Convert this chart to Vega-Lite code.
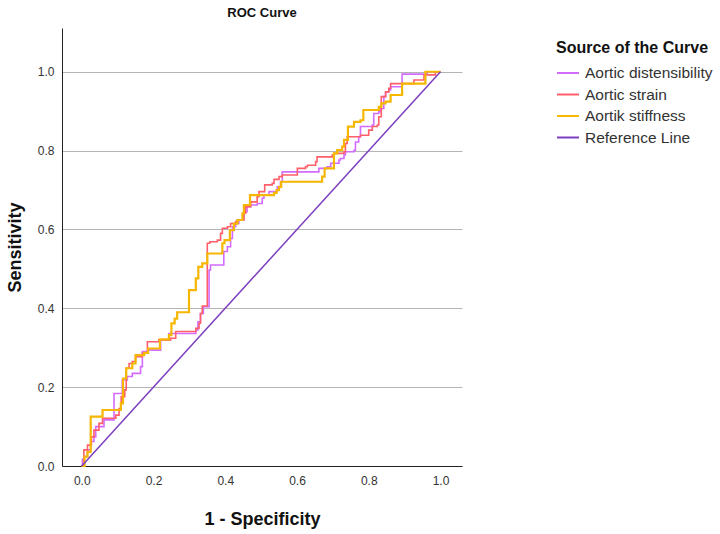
{
  "$schema": "https://vega.github.io/schema/vega-lite/v6.json",
  "width": 400,
  "height": 438,
  "autosize": {"type": "none"},
  "padding": {"left": 62, "top": 28, "right": 258, "bottom": 68},
  "background": "white",
  "config": {
    "font": "Liberation Sans",
    "view": {"stroke": null}
  },
  "title": {"text": "ROC Curve", "fontSize": 13, "fontWeight": "bold", "color": "#111", "offset": 8, "anchor": "middle"},
  "datasets": {
    "roc": [
      {"s": "Aortic distensibility", "o": 0, "x": 0, "y": 0},
      {"s": "Aortic distensibility", "o": 1, "x": 0.002, "y": 0.017},
      {"s": "Aortic distensibility", "o": 2, "x": 0.006, "y": 0.024},
      {"s": "Aortic distensibility", "o": 3, "x": 0.016, "y": 0.041},
      {"s": "Aortic distensibility", "o": 4, "x": 0.025, "y": 0.062},
      {"s": "Aortic distensibility", "o": 5, "x": 0.034, "y": 0.074},
      {"s": "Aortic distensibility", "o": 6, "x": 0.039, "y": 0.100},
      {"s": "Aortic distensibility", "o": 7, "x": 0.062, "y": 0.117},
      {"s": "Aortic distensibility", "o": 8, "x": 0.090, "y": 0.184},
      {"s": "Aortic distensibility", "o": 9, "x": 0.113, "y": 0.218},
      {"s": "Aortic distensibility", "o": 10, "x": 0.127, "y": 0.227},
      {"s": "Aortic distensibility", "o": 11, "x": 0.141, "y": 0.235},
      {"s": "Aortic distensibility", "o": 12, "x": 0.164, "y": 0.252},
      {"s": "Aortic distensibility", "o": 13, "x": 0.169, "y": 0.290},
      {"s": "Aortic distensibility", "o": 14, "x": 0.183, "y": 0.294},
      {"s": "Aortic distensibility", "o": 15, "x": 0.220, "y": 0.320},
      {"s": "Aortic distensibility", "o": 16, "x": 0.243, "y": 0.336},
      {"s": "Aortic distensibility", "o": 17, "x": 0.318, "y": 0.345},
      {"s": "Aortic distensibility", "o": 18, "x": 0.324, "y": 0.366},
      {"s": "Aortic distensibility", "o": 19, "x": 0.331, "y": 0.387},
      {"s": "Aortic distensibility", "o": 20, "x": 0.339, "y": 0.404},
      {"s": "Aortic distensibility", "o": 21, "x": 0.355, "y": 0.497},
      {"s": "Aortic distensibility", "o": 22, "x": 0.359, "y": 0.510},
      {"s": "Aortic distensibility", "o": 23, "x": 0.396, "y": 0.544},
      {"s": "Aortic distensibility", "o": 24, "x": 0.406, "y": 0.556},
      {"s": "Aortic distensibility", "o": 25, "x": 0.415, "y": 0.577},
      {"s": "Aortic distensibility", "o": 26, "x": 0.420, "y": 0.607},
      {"s": "Aortic distensibility", "o": 27, "x": 0.429, "y": 0.615},
      {"s": "Aortic distensibility", "o": 28, "x": 0.438, "y": 0.624},
      {"s": "Aortic distensibility", "o": 29, "x": 0.452, "y": 0.645},
      {"s": "Aortic distensibility", "o": 30, "x": 0.461, "y": 0.658},
      {"s": "Aortic distensibility", "o": 31, "x": 0.471, "y": 0.662},
      {"s": "Aortic distensibility", "o": 32, "x": 0.489, "y": 0.666},
      {"s": "Aortic distensibility", "o": 33, "x": 0.503, "y": 0.679},
      {"s": "Aortic distensibility", "o": 34, "x": 0.508, "y": 0.687},
      {"s": "Aortic distensibility", "o": 35, "x": 0.522, "y": 0.696},
      {"s": "Aortic distensibility", "o": 36, "x": 0.545, "y": 0.708},
      {"s": "Aortic distensibility", "o": 37, "x": 0.554, "y": 0.721},
      {"s": "Aortic distensibility", "o": 38, "x": 0.559, "y": 0.746},
      {"s": "Aortic distensibility", "o": 39, "x": 0.661, "y": 0.755},
      {"s": "Aortic distensibility", "o": 40, "x": 0.684, "y": 0.759},
      {"s": "Aortic distensibility", "o": 41, "x": 0.694, "y": 0.768},
      {"s": "Aortic distensibility", "o": 42, "x": 0.717, "y": 0.776},
      {"s": "Aortic distensibility", "o": 43, "x": 0.721, "y": 0.780},
      {"s": "Aortic distensibility", "o": 44, "x": 0.731, "y": 0.789},
      {"s": "Aortic distensibility", "o": 45, "x": 0.735, "y": 0.797},
      {"s": "Aortic distensibility", "o": 46, "x": 0.759, "y": 0.801},
      {"s": "Aortic distensibility", "o": 47, "x": 0.763, "y": 0.822},
      {"s": "Aortic distensibility", "o": 48, "x": 0.772, "y": 0.835},
      {"s": "Aortic distensibility", "o": 49, "x": 0.777, "y": 0.861},
      {"s": "Aortic distensibility", "o": 50, "x": 0.810, "y": 0.865},
      {"s": "Aortic distensibility", "o": 51, "x": 0.814, "y": 0.894},
      {"s": "Aortic distensibility", "o": 52, "x": 0.828, "y": 0.899},
      {"s": "Aortic distensibility", "o": 53, "x": 0.833, "y": 0.907},
      {"s": "Aortic distensibility", "o": 54, "x": 0.842, "y": 0.937},
      {"s": "Aortic distensibility", "o": 55, "x": 0.847, "y": 0.949},
      {"s": "Aortic distensibility", "o": 56, "x": 0.856, "y": 0.954},
      {"s": "Aortic distensibility", "o": 57, "x": 0.861, "y": 0.962},
      {"s": "Aortic distensibility", "o": 58, "x": 0.893, "y": 0.994},
      {"s": "Aortic distensibility", "o": 59, "x": 0.963, "y": 1.0},
      {"s": "Aortic distensibility", "o": 60, "x": 1.0, "y": 1.0},

      {"s": "Aortic strain", "o": 0, "x": 0, "y": 0},
      {"s": "Aortic strain", "o": 1, "x": 0.006, "y": 0.041},
      {"s": "Aortic strain", "o": 2, "x": 0.016, "y": 0.053},
      {"s": "Aortic strain", "o": 3, "x": 0.027, "y": 0.074},
      {"s": "Aortic strain", "o": 4, "x": 0.034, "y": 0.091},
      {"s": "Aortic strain", "o": 5, "x": 0.048, "y": 0.108},
      {"s": "Aortic strain", "o": 6, "x": 0.058, "y": 0.121},
      {"s": "Aortic strain", "o": 7, "x": 0.095, "y": 0.129},
      {"s": "Aortic strain", "o": 8, "x": 0.104, "y": 0.146},
      {"s": "Aortic strain", "o": 9, "x": 0.110, "y": 0.176},
      {"s": "Aortic strain", "o": 10, "x": 0.120, "y": 0.193},
      {"s": "Aortic strain", "o": 11, "x": 0.124, "y": 0.248},
      {"s": "Aortic strain", "o": 12, "x": 0.132, "y": 0.260},
      {"s": "Aortic strain", "o": 13, "x": 0.141, "y": 0.265},
      {"s": "Aortic strain", "o": 14, "x": 0.150, "y": 0.277},
      {"s": "Aortic strain", "o": 15, "x": 0.169, "y": 0.286},
      {"s": "Aortic strain", "o": 16, "x": 0.183, "y": 0.315},
      {"s": "Aortic strain", "o": 17, "x": 0.215, "y": 0.320},
      {"s": "Aortic strain", "o": 18, "x": 0.248, "y": 0.324},
      {"s": "Aortic strain", "o": 19, "x": 0.262, "y": 0.341},
      {"s": "Aortic strain", "o": 20, "x": 0.318, "y": 0.349},
      {"s": "Aortic strain", "o": 21, "x": 0.327, "y": 0.362},
      {"s": "Aortic strain", "o": 22, "x": 0.331, "y": 0.387},
      {"s": "Aortic strain", "o": 23, "x": 0.336, "y": 0.406},
      {"s": "Aortic strain", "o": 24, "x": 0.350, "y": 0.565},
      {"s": "Aortic strain", "o": 25, "x": 0.357, "y": 0.569},
      {"s": "Aortic strain", "o": 26, "x": 0.378, "y": 0.573},
      {"s": "Aortic strain", "o": 27, "x": 0.387, "y": 0.590},
      {"s": "Aortic strain", "o": 28, "x": 0.392, "y": 0.603},
      {"s": "Aortic strain", "o": 29, "x": 0.406, "y": 0.607},
      {"s": "Aortic strain", "o": 30, "x": 0.415, "y": 0.615},
      {"s": "Aortic strain", "o": 31, "x": 0.429, "y": 0.620},
      {"s": "Aortic strain", "o": 32, "x": 0.434, "y": 0.624},
      {"s": "Aortic strain", "o": 33, "x": 0.452, "y": 0.641},
      {"s": "Aortic strain", "o": 34, "x": 0.457, "y": 0.658},
      {"s": "Aortic strain", "o": 35, "x": 0.471, "y": 0.670},
      {"s": "Aortic strain", "o": 36, "x": 0.489, "y": 0.683},
      {"s": "Aortic strain", "o": 37, "x": 0.494, "y": 0.696},
      {"s": "Aortic strain", "o": 38, "x": 0.510, "y": 0.713},
      {"s": "Aortic strain", "o": 39, "x": 0.531, "y": 0.717},
      {"s": "Aortic strain", "o": 40, "x": 0.536, "y": 0.727},
      {"s": "Aortic strain", "o": 41, "x": 0.550, "y": 0.734},
      {"s": "Aortic strain", "o": 42, "x": 0.559, "y": 0.738},
      {"s": "Aortic strain", "o": 43, "x": 0.601, "y": 0.755},
      {"s": "Aortic strain", "o": 44, "x": 0.624, "y": 0.759},
      {"s": "Aortic strain", "o": 45, "x": 0.629, "y": 0.763},
      {"s": "Aortic strain", "o": 46, "x": 0.652, "y": 0.772},
      {"s": "Aortic strain", "o": 47, "x": 0.656, "y": 0.784},
      {"s": "Aortic strain", "o": 48, "x": 0.698, "y": 0.789},
      {"s": "Aortic strain", "o": 49, "x": 0.703, "y": 0.793},
      {"s": "Aortic strain", "o": 50, "x": 0.731, "y": 0.797},
      {"s": "Aortic strain", "o": 51, "x": 0.735, "y": 0.818},
      {"s": "Aortic strain", "o": 52, "x": 0.740, "y": 0.835},
      {"s": "Aortic strain", "o": 53, "x": 0.777, "y": 0.839},
      {"s": "Aortic strain", "o": 54, "x": 0.800, "y": 0.852},
      {"s": "Aortic strain", "o": 55, "x": 0.810, "y": 0.861},
      {"s": "Aortic strain", "o": 56, "x": 0.824, "y": 0.865},
      {"s": "Aortic strain", "o": 57, "x": 0.828, "y": 0.886},
      {"s": "Aortic strain", "o": 58, "x": 0.835, "y": 0.937},
      {"s": "Aortic strain", "o": 59, "x": 0.847, "y": 0.949},
      {"s": "Aortic strain", "o": 60, "x": 0.856, "y": 0.958},
      {"s": "Aortic strain", "o": 61, "x": 0.861, "y": 0.970},
      {"s": "Aortic strain", "o": 62, "x": 0.926, "y": 0.979},
      {"s": "Aortic strain", "o": 63, "x": 0.954, "y": 0.992},
      {"s": "Aortic strain", "o": 64, "x": 0.986, "y": 1.0},
      {"s": "Aortic strain", "o": 65, "x": 1.0, "y": 1.0},

      {"s": "Aortik stiffness", "o": 0, "x": 0, "y": 0},
      {"s": "Aortik stiffness", "o": 1, "x": 0.008, "y": 0.024},
      {"s": "Aortik stiffness", "o": 2, "x": 0.016, "y": 0.036},
      {"s": "Aortik stiffness", "o": 3, "x": 0.025, "y": 0.125},
      {"s": "Aortik stiffness", "o": 4, "x": 0.058, "y": 0.142},
      {"s": "Aortik stiffness", "o": 5, "x": 0.109, "y": 0.159},
      {"s": "Aortik stiffness", "o": 6, "x": 0.115, "y": 0.222},
      {"s": "Aortik stiffness", "o": 7, "x": 0.124, "y": 0.248},
      {"s": "Aortik stiffness", "o": 8, "x": 0.141, "y": 0.260},
      {"s": "Aortik stiffness", "o": 9, "x": 0.150, "y": 0.281},
      {"s": "Aortik stiffness", "o": 10, "x": 0.174, "y": 0.287},
      {"s": "Aortik stiffness", "o": 11, "x": 0.185, "y": 0.298},
      {"s": "Aortik stiffness", "o": 12, "x": 0.218, "y": 0.321},
      {"s": "Aortik stiffness", "o": 13, "x": 0.243, "y": 0.332},
      {"s": "Aortik stiffness", "o": 14, "x": 0.250, "y": 0.362},
      {"s": "Aortik stiffness", "o": 15, "x": 0.259, "y": 0.374},
      {"s": "Aortik stiffness", "o": 16, "x": 0.266, "y": 0.390},
      {"s": "Aortik stiffness", "o": 17, "x": 0.299, "y": 0.446},
      {"s": "Aortik stiffness", "o": 18, "x": 0.318, "y": 0.476},
      {"s": "Aortik stiffness", "o": 19, "x": 0.325, "y": 0.505},
      {"s": "Aortik stiffness", "o": 20, "x": 0.336, "y": 0.514},
      {"s": "Aortik stiffness", "o": 21, "x": 0.350, "y": 0.539},
      {"s": "Aortik stiffness", "o": 22, "x": 0.392, "y": 0.565},
      {"s": "Aortik stiffness", "o": 23, "x": 0.398, "y": 0.573},
      {"s": "Aortik stiffness", "o": 24, "x": 0.413, "y": 0.598},
      {"s": "Aortik stiffness", "o": 25, "x": 0.424, "y": 0.615},
      {"s": "Aortik stiffness", "o": 26, "x": 0.434, "y": 0.624},
      {"s": "Aortik stiffness", "o": 27, "x": 0.448, "y": 0.641},
      {"s": "Aortik stiffness", "o": 28, "x": 0.452, "y": 0.662},
      {"s": "Aortik stiffness", "o": 29, "x": 0.469, "y": 0.687},
      {"s": "Aortik stiffness", "o": 30, "x": 0.536, "y": 0.693},
      {"s": "Aortik stiffness", "o": 31, "x": 0.543, "y": 0.700},
      {"s": "Aortik stiffness", "o": 32, "x": 0.550, "y": 0.708},
      {"s": "Aortik stiffness", "o": 33, "x": 0.556, "y": 0.721},
      {"s": "Aortik stiffness", "o": 34, "x": 0.670, "y": 0.734},
      {"s": "Aortik stiffness", "o": 35, "x": 0.677, "y": 0.755},
      {"s": "Aortik stiffness", "o": 36, "x": 0.703, "y": 0.793},
      {"s": "Aortik stiffness", "o": 37, "x": 0.712, "y": 0.801},
      {"s": "Aortik stiffness", "o": 38, "x": 0.726, "y": 0.810},
      {"s": "Aortik stiffness", "o": 39, "x": 0.731, "y": 0.827},
      {"s": "Aortik stiffness", "o": 40, "x": 0.742, "y": 0.861},
      {"s": "Aortik stiffness", "o": 41, "x": 0.759, "y": 0.873},
      {"s": "Aortik stiffness", "o": 42, "x": 0.777, "y": 0.877},
      {"s": "Aortik stiffness", "o": 43, "x": 0.785, "y": 0.903},
      {"s": "Aortik stiffness", "o": 44, "x": 0.828, "y": 0.911},
      {"s": "Aortik stiffness", "o": 45, "x": 0.835, "y": 0.920},
      {"s": "Aortik stiffness", "o": 46, "x": 0.847, "y": 0.924},
      {"s": "Aortik stiffness", "o": 47, "x": 0.861, "y": 0.941},
      {"s": "Aortik stiffness", "o": 48, "x": 0.893, "y": 0.970},
      {"s": "Aortik stiffness", "o": 49, "x": 0.958, "y": 1.0},
      {"s": "Aortik stiffness", "o": 50, "x": 1.0, "y": 1.0},

      {"s": "Reference Line", "o": 0, "x": 0, "y": 0},
      {"s": "Reference Line", "o": 1, "x": 1, "y": 1}
    ]
  },
  "data": {"name": "roc"},
  "encoding": {
    "x": {
      "field": "x", "type": "quantitative",
      "scale": {"domain": [-0.055, 1.06], "nice": false, "zero": false},
      "axis": {
        "title": "1 - Specificity", "titleFontSize": 18, "titleFontWeight": "bold", "titleColor": "#111", "titlePadding": 24,
        "values": [0, 0.2, 0.4, 0.6, 0.8, 1.0], "format": ".1f",
        "labelFontSize": 12, "labelColor": "#333", "labelPadding": 9,
        "ticks": false, "grid": false, "domainColor": "#222", "domainWidth": 1
      }
    },
    "y": {
      "field": "y", "type": "quantitative",
      "scale": {"domain": [0, 1.111], "nice": false},
      "axis": {
        "title": "Sensitivity", "titleFontSize": 18, "titleFontWeight": "bold", "titleColor": "#111", "titlePadding": 13,
        "values": [0, 0.2, 0.4, 0.6, 0.8, 1.0], "format": ".1f",
        "labelFontSize": 12, "labelColor": "#333", "labelPadding": 8,
        "ticks": false, "grid": true, "gridColor": "#b4b4b4", "gridWidth": 1.2,
        "domainColor": "#222", "domainWidth": 1
      }
    },
    "color": {
      "field": "s", "type": "nominal",
      "scale": {
        "domain": ["Aortic distensibility", "Aortic strain", "Aortik stiffness", "Reference Line"],
        "range": ["#d36bff", "#ff5f6a", "#f5b700", "#7b3fbf"]
      },
      "legend": {
        "title": "Source of the Curve", "titleFontSize": 16, "titleFontWeight": "bold", "titleColor": "#111", "titlePadding": 5,
        "orient": "none", "legendX": 494, "legendY": 12,
        "labelFontSize": 15.5, "labelColor": "#333", "labelOffset": 5,
        "symbolType": "stroke", "symbolSize": 484, "symbolStrokeWidth": 2,
        "rowPadding": 0.5
      }
    },
    "order": {"field": "o", "type": "quantitative"}
  },
  "layer": [
    {
      "transform": [{"filter": "datum.s === 'Aortic distensibility' || datum.s === 'Aortic strain'"}],
      "mark": {"type": "line", "interpolate": "step-after", "strokeWidth": 1.6}
    },
    {
      "transform": [{"filter": "datum.s === 'Aortik stiffness'"}],
      "mark": {"type": "line", "interpolate": "step-after", "strokeWidth": 2.2}
    },
    {
      "transform": [{"filter": "datum.s === 'Reference Line'"}],
      "mark": {"type": "line", "strokeWidth": 1.5}
    }
  ]
}
